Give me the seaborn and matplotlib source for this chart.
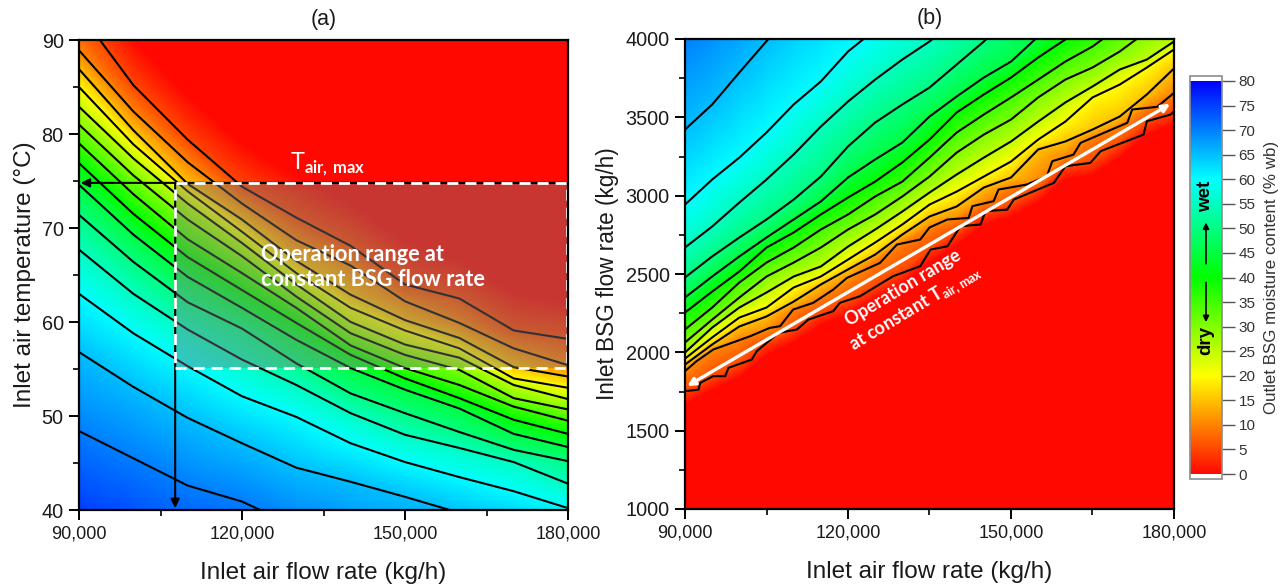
import numpy as np
import matplotlib
matplotlib.use("Agg")
import matplotlib.pyplot as plt
import matplotlib.tri as mtri
from matplotlib.cm import ScalarMappable
from matplotlib.colors import LinearSegmentedColormap, Normalize
from matplotlib.patches import Rectangle
from matplotlib.ticker import MultipleLocator
import seaborn as sns

# moisture level of each line
levels_a = [0, 5, 10, 15, 20, 25, 30, 35, 40, 45, 50, 55, 60, 65, 70, 80]
levels_b = [0, 5, 10, 15, 20, 25, 30, 35, 40, 45, 50, 55, 60, 65, 70]

# panel (a): air temperature of each moisture line at these air flow rates
air_a = [90000, 100000, 110000, 120000, 130000, 140000, 150000, 160000, 170000, 180000]
temp_00 = [98.0, 90.0, 84.0, 79.0, 75.5, 72.5, 68.5, 66.5, 63.0, 62.0]
temp_05 = [93.0, 85.2, 79.4, 74.4, 71.1, 68.1, 64.0, 62.5, 59.1, 58.2]
temp_10 = [88.9, 82.4, 77.0, 72.6, 68.7, 66.0, 62.2, 59.9, 57.2, 55.4]
temp_15 = [86.9, 80.4, 74.7, 70.9, 66.5, 62.9, 60.2, 58.3, 55.2, 54.2]
temp_20 = [85.0, 78.9, 73.9, 69.6, 65.2, 61.5, 59.1, 57.2, 54.0, 53.0]
temp_25 = [82.9, 77.4, 72.6, 68.4, 64.0, 60.0, 57.6, 56.2, 53.3, 51.8]
temp_30 = [81.0, 75.6, 70.9, 67.0, 62.7, 58.8, 56.5, 54.9, 51.9, 50.7]
temp_35 = [79.0, 73.6, 68.8, 65.2, 61.5, 57.5, 55.1, 53.3, 51.0, 49.5]
temp_40 = [76.9, 71.5, 66.9, 63.4, 59.9, 56.5, 54.0, 51.9, 49.6, 48.1]
temp_45 = [74.6, 69.3, 64.8, 61.5, 58.1, 55.1, 52.8, 50.8, 48.1, 46.7]
temp_50 = [71.4, 66.4, 62.1, 59.3, 55.6, 52.4, 50.3, 48.3, 46.4, 45.2]
temp_55 = [67.7, 63.0, 59.2, 56.0, 53.3, 50.3, 48.0, 46.6, 45.1, 42.8]
temp_60 = [63.0, 58.8, 55.3, 52.1, 49.9, 47.1, 45.1, 43.5, 42.0, 40.2]
temp_65 = [56.8, 53.1, 49.8, 47.1, 44.5, 43.0, 41.4, 39.7, 38.4, 37.0]
temp_70 = [48.4, 45.5, 42.6, 40.9, 38.2, 35.5, 33.5, 32.0, 30.5, 29.0]
temp_80 = [32.0, 29.0, 26.5, 24.0, 21.0, 19.0, 17.0, 15.0, 13.0, 11.0]
temp_rows = [temp_00, temp_05, temp_10, temp_15, temp_20, temp_25, temp_30, temp_35,
             temp_40, temp_45, temp_50, temp_55, temp_60, temp_65, temp_70, temp_80]

# panel (b): BSG flow rate of each moisture line at these air flow rates
air_b = [90000, 95000, 100000, 105000, 110000, 115000, 120000, 125000, 130000, 135000,
         140000, 145000, 150000, 155000, 160000, 165000, 170000, 175000, 180000]
bsg_00 = [1670, 1759, 1842, 1983, 2066, 2174, 2244, 2340, 2436, 2576, 2685, 2812, 2863, 2959, 3106, 3132, 3246, 3387, 3457]
bsg_05 = [1750, 1839, 1922, 2063, 2146, 2254, 2324, 2420, 2516, 2656, 2765, 2892, 2943, 3039, 3186, 3212, 3326, 3467, 3537]
bsg_10 = [1877, 2005, 2082, 2133, 2273, 2350, 2452, 2592, 2707, 2797, 2854, 2956, 3058, 3090, 3243, 3378, 3441, 3563, 3658]
bsg_15 = [1922, 2050, 2165, 2229, 2324, 2433, 2529, 2624, 2752, 2867, 2931, 3052, 3116, 3295, 3346, 3422, 3505, 3646, 3812]
bsg_20 = [1960, 2095, 2222, 2286, 2414, 2484, 2592, 2701, 2816, 2943, 3026, 3122, 3218, 3358, 3473, 3627, 3709, 3818, 3933]
bsg_25 = [1999, 2158, 2286, 2382, 2484, 2548, 2675, 2784, 2899, 3020, 3135, 3243, 3346, 3473, 3595, 3697, 3805, 3869, 3984]
bsg_30 = [2063, 2209, 2350, 2484, 2573, 2669, 2784, 2880, 2995, 3122, 3275, 3390, 3486, 3627, 3741, 3818, 3920, 4048, 4169]
bsg_35 = [2146, 2286, 2446, 2573, 2669, 2784, 2880, 2995, 3090, 3243, 3403, 3518, 3627, 3741, 3856, 3952, 4080, 4188, 4297]
bsg_40 = [2254, 2388, 2516, 2669, 2765, 2880, 2988, 3090, 3212, 3358, 3531, 3646, 3754, 3882, 3997, 4092, 4188, 4284, 4380]
bsg_45 = [2350, 2484, 2612, 2733, 2848, 2963, 3116, 3231, 3339, 3505, 3633, 3754, 3856, 4016, 4124, 4220, 4316, 4412, 4507]
bsg_50 = [2478, 2612, 2733, 2848, 2975, 3122, 3314, 3467, 3582, 3690, 3837, 3984, 4156, 4316, 4475, 4635, 4795, 4954, 5114]
bsg_55 = [2669, 2803, 2956, 3103, 3263, 3441, 3601, 3741, 3869, 3984, 4130, 4280, 4430, 4580, 4730, 4880, 5030, 5180, 5330]
bsg_60 = [2943, 3103, 3243, 3403, 3582, 3729, 3920, 4060, 4220, 4380, 4540, 4700, 4860, 5020, 5180, 5340, 5500, 5660, 5820]
bsg_65 = [3422, 3582, 3786, 3986, 4190, 4390, 4590, 4790, 4990, 5190, 5390, 5590, 5790, 5990, 6190, 6390, 6590, 6790, 6990]
bsg_70 = [4020, 4200, 4400, 4600, 4800, 5000, 5200, 5400, 5600, 5800, 6000, 6200, 6400, 6600, 6800, 7000, 7200, 7400, 7600]
bsg_rows = [bsg_00, bsg_05, bsg_10, bsg_15, bsg_20, bsg_25, bsg_30, bsg_35,
            bsg_40, bsg_45, bsg_50, bsg_55, bsg_60, bsg_65, bsg_70]

# the two lowest lines of (b) are stepped, so they get their own vertices
step_05_air = [90000, 92500, 92800, 95200, 97400, 98000, 102300, 103200, 107200, 110600, 112700, 117300,
               118500, 122200, 128300, 133300, 135200, 138300, 140700, 144400, 145300, 149300, 150500,
               157900, 160000, 164600, 166500, 174400, 175000, 179400, 180000]
step_05_bsg = [1752, 1762, 1805, 1848, 1848, 1901, 1954, 2007, 2124, 2146, 2209, 2263,
               2316, 2358, 2486, 2550, 2656, 2677, 2805, 2816, 2901, 2911, 2975,
               3082, 3188, 3209, 3284, 3390, 3475, 3518, 3539]
step_10_air = [90000, 92100, 95200, 102000, 105600, 107500, 109900, 113600, 117300, 119800, 125900, 129000,
               133300, 135000, 138300, 142200, 142900, 146800, 147700, 152900, 156600, 157600, 161500,
               162800, 171400, 172300, 176900, 180000]
step_10_bsg = [1880, 1943, 2018, 2103, 2156, 2167, 2273, 2316, 2401, 2475, 2571, 2688,
               2720, 2797, 2848, 2858, 2933, 2965, 3039, 3071, 3124, 3220, 3262,
               3337, 3465, 3550, 3567, 3656]

x_ticks = [90000, 120000, 150000, 180000]
x_tick_labels = ["90,000", "120,000", "150,000", "180,000"]
temp_ticks = [40, 50, 60, 70, 80, 90]
bsg_ticks = [1000, 1500, 2000, 2500, 3000, 3500, 4000]
bar_ticks = list(range(0, 85, 5))

W, H = 1286, 586
TEXT = "#1a1a1a"

sns.set_theme(style="ticks", font="Liberation Sans")
plt.rcParams["mathtext.fontset"] = "custom"
plt.rcParams["mathtext.bf"] = "Lato:bold"
plt.rcParams["mathtext.rm"] = "Lato"

cmap = LinearSegmentedColormap.from_list(
    "moisture", ["#ff0800", "#ffff00", "#00ff00", "#00ffff", "#0000ff"], N=512)
cmap.set_under("white")
cmap.set_over("white")
norm = Normalize(0, 80)


def px_axes(fig, left, top, right, bottom):
    return fig.add_axes([left / W, 1 - bottom / H, (right - left) / W, (bottom - top) / H])


def draw_field(ax, air, rows, levels, line_rows):
    """Gouraud mesh between the moisture lines, then the lines on top."""
    nrow, ncol = len(rows), len(air)
    xs = np.tile(air, nrow).astype(float)
    ys = np.concatenate(rows).astype(float)
    vals = np.repeat(levels, ncol).astype(float)
    tris = []
    for r in range(nrow - 1):
        for c in range(ncol - 1):
            a = r * ncol + c
            tris += [[a, a + 1, a + ncol], [a + 1, a + ncol + 1, a + ncol]]
    ax.set_facecolor(cmap(0))
    ax.tripcolor(mtri.Triangulation(xs, ys, triangles=tris), vals, shading="gouraud",
                 cmap=cmap, norm=norm, zorder=1)
    for row in line_rows:
        sns.lineplot(x=air, y=row, color="black", linewidth=1.5, estimator=None,
                     sort=False, ax=ax, zorder=2)


def style_axes(ax, ylim, yticks, minor_y, ylabel, ysize, title, ypad):
    ax.set_xlim(90000, 180000)
    ax.set_ylim(*ylim)
    ax.set_xticks(x_ticks)
    ax.set_xticklabels(x_tick_labels)
    ax.set_yticks(yticks)
    ax.xaxis.set_minor_locator(MultipleLocator(15000))
    ax.yaxis.set_minor_locator(MultipleLocator(minor_y))
    ax.tick_params(which="major", length=7, width=1.4, color="black", labelcolor=TEXT, pad=4)
    ax.tick_params(axis="x", which="major", labelsize=13)
    ax.tick_params(axis="y", which="major", labelsize=14.3)
    ax.tick_params(which="minor", length=4, width=1.2, color="black")
    ax.set_xlabel("Inlet air flow rate (kg/h)", fontsize=17.5, color=TEXT, labelpad=14)
    ax.set_ylabel(ylabel, fontsize=ysize, color=TEXT, labelpad=ypad)
    ax.set_title(title, fontsize=15.5, color=TEXT, pad=11)
    for side in ax.spines.values():
        side.set_linewidth(1.6)
        side.set_color("black")
        side.set_zorder(8)


fig = plt.figure(figsize=(W / 100, H / 100), dpi=100)
ax_a = px_axes(fig, 79, 40, 568, 510)
ax_b = px_axes(fig, 685, 39, 1174, 509)

draw_field(ax_a, air_a, temp_rows, levels_a, temp_rows[1:-1])
style_axes(ax_a, (40, 90), temp_ticks, 5, "Inlet air temperature (°C)", 17.5, "(a)", 4)

draw_field(ax_b, air_b, bsg_rows, levels_b, bsg_rows[3:-1])
sns.lineplot(x=step_05_air, y=step_05_bsg, color="black", linewidth=1.5, estimator=None,
             sort=False, ax=ax_b, zorder=2)
sns.lineplot(x=step_10_air, y=step_10_bsg, color="black", linewidth=1.5, estimator=None,
             sort=False, ax=ax_b, zorder=2)
style_axes(ax_b, (1000, 4000), bsg_ticks, 250, "Inlet BSG flow rate (kg/h)", 16.3, "(b)", 5)

# operation range box on (a)
box_x, box_t0, box_t1 = 107700, 55.1, 74.8
ax_a.add_patch(Rectangle((box_x, box_t0), 180000 - box_x, box_t1 - box_t0,
                         facecolor="#7a7a7a", alpha=0.41, edgecolor="none", zorder=3))
head = dict(arrowstyle="-|>", color="black", lw=1.5, mutation_scale=13, shrinkA=0, shrinkB=0)
ax_a.annotate("", xy=(90300, box_t1), xytext=(180000, box_t1), arrowprops=head, zorder=4)
ax_a.annotate("", xy=(box_x, 40.2), xytext=(box_x, box_t1), arrowprops=head, zorder=4)
ax_a.add_patch(Rectangle((box_x, box_t0), 179800 - box_x, box_t1 - box_t0, fill=False,
                         edgecolor="white", lw=2, linestyle=(0, (4, 2.5)), zorder=5))

ax_a.text(128800, 76.2, "T$_{\\mathbf{air,\\,max}}$", color="white", fontsize=17, family="Lato",
          va="baseline", zorder=6)
ax_a.text(123500, 65.85, "Operation range at\nconstant BSG flow rate", color="white", fontsize=15.6,
          family="Lato", weight="bold", va="center", linespacing=1.27, zorder=6)

# operation range arrow on (b)
ax_b.annotate("", xy=(90400, 1785), xytext=(179300, 3585), zorder=6,
              arrowprops=dict(arrowstyle="<|-|>", color="white", lw=2.4, mutation_scale=11,
                              shrinkA=0, shrinkB=0))
ax_b.text(131400, 2340, "Operation range\nat constant T$_{\\mathbf{air,max}}$", color="white",
          fontsize=13, family="Lato", weight="bold", rotation=31, rotation_mode="anchor",
          ha="center", va="center", linespacing=1.25, zorder=6)

# colour bar
cax = px_axes(fig, 1190, 76, 1222, 479)
cbar = fig.colorbar(ScalarMappable(norm=norm, cmap=cmap), cax=cax, extend="both",
                    extendrect=True, extendfrac=0.0127, ticks=bar_ticks)
cbar.outline.set_edgecolor("#8c8c8c")
cbar.outline.set_linewidth(1.2)
cbar.ax.tick_params(length=9, width=1, color="#555555", labelsize=11, labelcolor="#333333", pad=3)
cbar.set_label("Outlet BSG moisture content (% wb)", fontsize=12.2, color="#333333", labelpad=6)
cax.text(0.5, 56.6, "wet", rotation=90, ha="center", va="center", fontsize=13.5, weight="bold",
         color="black", transform=cax.get_yaxis_transform())
cax.text(0.5, 27.2, "dry", rotation=90, ha="center", va="center", fontsize=13.5, weight="bold",
         color="black", transform=cax.get_yaxis_transform())
small = dict(arrowstyle="-|>", color="black", lw=1.2, mutation_scale=9, shrinkA=0, shrinkB=0)
cax.annotate("", xy=(0.5, 51.2), xytext=(0.5, 42.8), xycoords=cax.get_yaxis_transform(),
             textcoords=cax.get_yaxis_transform(), arrowprops=small)
cax.annotate("", xy=(0.5, 30.9), xytext=(0.5, 39.0), xycoords=cax.get_yaxis_transform(),
             textcoords=cax.get_yaxis_transform(), arrowprops=small)

fig.savefig("out.png", dpi=100)
